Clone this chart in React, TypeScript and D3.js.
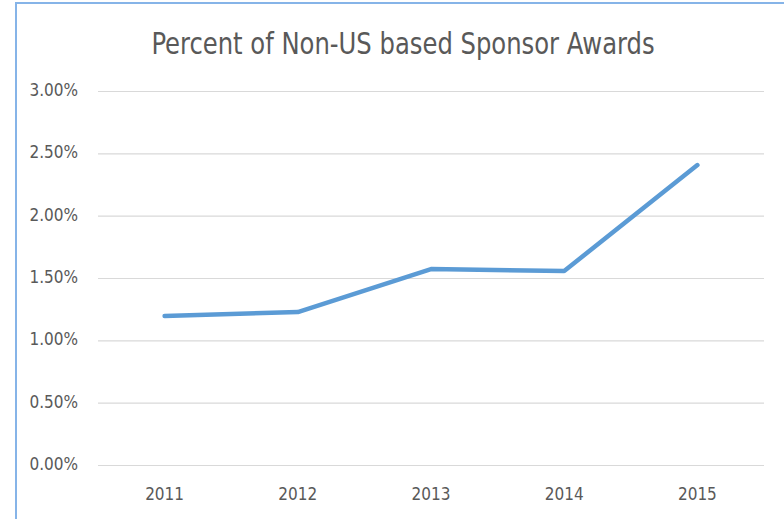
import React, { useEffect, useRef } from "react";
import * as d3 from "d3";

const years = ["2011", "2012", "2013", "2014", "2015"];
const percents = [1.195, 1.227, 1.572, 1.556, 2.406];
const yTicks = [0, 0.5, 1, 1.5, 2, 2.5, 3];
const title = "Percent of Non-US based Sponsor Awards";

const W = 784;
const H = 519;
const FONT = "'Liberation Sans Narrow', 'DejaVu Sans Condensed', 'Open Sans', sans-serif";

export default function App() {
  const ref = useRef<SVGSVGElement>(null);

  useEffect(() => {
    const svg = d3.select(ref.current);
    svg.selectAll("*").remove();

    const x = d3.scaleBand().domain(years).range([98, 764]);
    const y = d3.scaleLinear().domain([0, 3]).range([465, 91]);

    svg.append("rect").attr("width", W).attr("height", H).attr("fill", "#ffffff");

    // frame
    svg.append("path")
      .attr("d", `M16,${H} L16,3 L${W},3`)
      .attr("fill", "none")
      .attr("stroke", "#86b4e8")
      .attr("stroke-width", 2);

    // title
    svg.append("text")
      .attr("transform", "translate(403,54) scale(1,1.13)")
      .attr("text-anchor", "middle")
      .attr("font-family", FONT)
      .attr("font-size", 27)
      .attr("fill", "#595959")
      .text(title);

    // gridlines
    svg.append("g")
      .selectAll("line")
      .data(yTicks)
      .join("line")
      .attr("x1", 98)
      .attr("x2", 764)
      .attr("y1", (d) => y(d) + 0.5)
      .attr("y2", (d) => y(d) + 0.5)
      .attr("stroke", "#d9d9d9")
      .attr("stroke-width", 1.2);

    // y labels
    svg.append("g")
      .selectAll("text")
      .data(yTicks)
      .join("text")
      .attr("x", 78)
      .attr("y", (d) => y(d) + 5)
      .attr("text-anchor", "end")
      .attr("font-family", FONT)
      .attr("font-size", 17)
      .attr("fill", "#595959")
      .text((d) => d3.format(".2f")(d) + "%");

    // x labels
    svg.append("g")
      .selectAll("text")
      .data(years)
      .join("text")
      .attr("x", (d) => (x(d) as number) + x.bandwidth() / 2)
      .attr("y", 500)
      .attr("text-anchor", "middle")
      .attr("font-family", FONT)
      .attr("font-size", 17)
      .attr("fill", "#595959")
      .text((d) => d);

    // line
    const line = d3.line<number>()
      .x((_, i) => (x(years[i]) as number) + x.bandwidth() / 2)
      .y((d) => y(d));

    svg.append("path")
      .datum(percents)
      .attr("d", line)
      .attr("fill", "none")
      .attr("stroke", "#5b9bd5")
      .attr("stroke-width", 4.5)
      .attr("stroke-linecap", "round")
      .attr("stroke-linejoin", "round");
  }, []);

  return (
    <svg
      ref={ref}
      width={W}
      height={H}
      style={{ position: "absolute", left: 0, top: 0, display: "block" }}
    />
  );
}
